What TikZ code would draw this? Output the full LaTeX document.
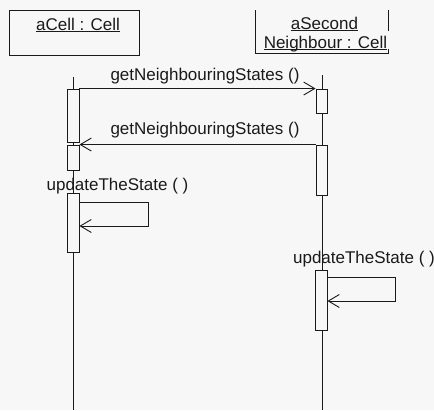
\documentclass[tikz,border=0pt]{standalone}
\usepackage{fontspec}
\setmainfont{Liberation Sans}
\usetikzlibrary{arrows.meta}
\definecolor{bg}{HTML}{F7F7F7}
\definecolor{ink}{HTML}{1A1A1A}
\newcommand\myul[1]{\underline{\smash{#1}}}
\tikzset{
  ln/.style={draw=ink, line width=0.9pt},
  act/.style={draw=ink, line width=0.9pt, fill=bg, minimum width=12pt, inner sep=0pt},
  lbl/.style={font=\fontsize{17}{19}\selectfont, text=ink, inner sep=0pt, anchor=base},
  msg/.style={ln, -{Straight Barb[length=11pt,width=13pt,line width=0.9pt]}},
}
\begin{document}
\begin{tikzpicture}[x=1pt,y=-1pt]
\fill[bg] (0,0) rectangle (434,410);
\useasboundingbox (0,0) rectangle (434,410);
% object boxes
\node[ln, minimum width=130pt, minimum height=45pt, inner sep=0pt] (obj1) at (74,32.5) {};
\node[lbl] (t1) at (78,30) {\myul{aCell : Cell}};
\coordinate (o2a) at (255,10);
\coordinate (o2b) at (255,53);
\coordinate (o2c) at (388,53);
\coordinate (o2d) at (388,49);
\coordinate (o2e) at (388,31);
\coordinate (o2f) at (388,10);
\draw[ln] (o2a) -- (o2b) -- (o2c) -- (o2d);
\draw[ln] (o2e) -- (o2f);
\node[lbl] (t2a) at (324.5,29) {\myul{aSecond}};
\node[lbl] (t2b) at (325.5,48) {\myul{Neighbour : Cell}};
% lifelines
\coordinate (l1top) at (73,77);
\coordinate (l1bot) at (73,410);
\coordinate (l2top) at (322,75);
\coordinate (l2bot) at (322,410);
\draw[ln] (l1top) -- (l1bot);
\draw[ln] (l2top) -- (l2bot);
% activations
\node[act, minimum height=53pt] (a1) at (73,115.5) {};
\node[act, minimum height=25pt] (a2) at (73,157.5) {};
\node[act, minimum height=59pt] (a3) at (73,222.5) {};
\node[act, minimum width=11pt, minimum height=24pt] (b1) at (321.5,101) {};
\node[act, minimum width=11pt, minimum height=50pt] (b2) at (321.5,170) {};
\node[act, minimum height=60pt] (b3) at (321,300) {};
% messages
\draw[msg] (a1.north east) -- (b1.north west);
\node[lbl] (m1) at (205,80) {getNeighbouringStates ()};
\draw[msg] (b2.north west) -- (a2.north east);
\node[lbl] (m2) at (205,134) {getNeighbouringStates ()};
\node[lbl] (m3) at (117.5,190) {updateTheState ( )};
\coordinate (s1a) at (148,202);
\coordinate (s1b) at (148,226);
\draw[msg] (a3.east |- s1a) -- (s1a) -- (s1b) -- (a3.east |- s1b);
\node[lbl] (m4) at (364,263) {updateTheState ( )};
\coordinate (s2a) at (395,277);
\coordinate (s2b) at (395,301);
\draw[msg] (b3.east |- s2a) -- (s2a) -- (s2b) -- (b3.east |- s2b);
\end{tikzpicture}
\end{document}
